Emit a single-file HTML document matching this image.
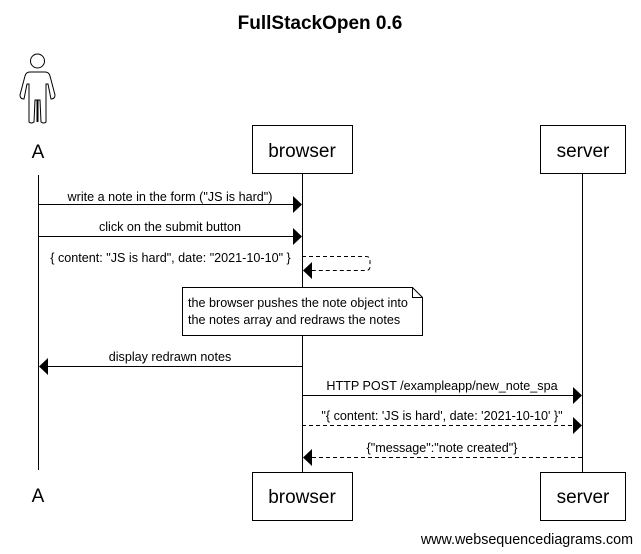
<!DOCTYPE html>
<html><head><style>body{margin:0;background:#fff}svg{display:block}text{font-family:"Liberation Sans",sans-serif;fill:#000}</style></head><body>
<svg width="641" height="554" viewBox="0 0 641 554" xmlns="http://www.w3.org/2000/svg">
<text x="320" y="29" font-size="19" font-weight="bold" text-anchor="middle">FullStackOpen 0.6</text>
<!-- actor -->
<g fill="none" stroke="#000" stroke-width="1">
<circle cx="37.5" cy="61" r="7"/>
<path d="M30,72 Q26,72 25,76 L20,95 Q20,99 24,99 L27,84 L29,84 L29,122 Q31,124 34,122 L35,100 L40,100 L41,122 Q44,124 46,122 L46,84 L48,84 L51,99 Q55,99 55,95 L50,76 Q49,72 45,72 Z"/>
<line x1="37.5" y1="100" x2="37.5" y2="122" stroke-width="2"/>
</g>
<text x="38" y="158" font-size="19" text-anchor="middle">A</text>
<text x="38" y="502" font-size="19" text-anchor="middle">A</text>
<!-- lifelines -->
<g stroke="#000" stroke-width="1">
<line x1="38.5" y1="175" x2="38.5" y2="470"/>
<line x1="302.5" y1="173" x2="302.5" y2="472"/>
<line x1="582.5" y1="173" x2="582.5" y2="472"/>
</g>
<!-- boxes -->
<g fill="#fff" stroke="#000">
<rect x="252.5" y="125.5" width="100" height="48"/>
<rect x="540.5" y="125.5" width="85" height="48"/>
<rect x="252.5" y="472.5" width="100" height="48"/>
<rect x="540.5" y="472.5" width="85" height="48"/>
</g>
<g font-size="19" text-anchor="middle">
<text x="302" y="157">browser</text><text x="583" y="157">server</text>
<text x="302" y="503">browser</text><text x="583" y="503">server</text>
</g>
<!-- messages -->
<g stroke="#000" fill="none">
<line x1="38" y1="204.5" x2="294" y2="204.5"/>
<line x1="38" y1="236.5" x2="294" y2="236.5"/>
<path d="M302,256.5 H366 Q370,256.5 370,260 V266 Q370,270.5 366,270.5 H312" stroke-dasharray="4,3"/>
<line x1="48" y1="366.5" x2="302" y2="366.5"/>
<line x1="302" y1="395.5" x2="574" y2="395.5"/>
<line x1="302" y1="425.5" x2="574" y2="425.5" stroke-dasharray="4,3"/>
<line x1="312" y1="457.5" x2="582" y2="457.5" stroke-dasharray="4,3"/>
</g>
<g fill="#000">
<path d="M293,196 L302,204.5 L293,213Z"/>
<path d="M293,228 L302,236.5 L293,245Z"/>
<path d="M312,262 L303,270.5 L312,279Z"/>
<path d="M48,358 L39,366.5 L48,375Z"/>
<path d="M573,387 L582,395.5 L573,404Z"/>
<path d="M573,417 L582,425.5 L573,434Z"/>
<path d="M312,449 L303,457.5 L312,466Z"/>
</g>
<g font-size="12.6" text-anchor="middle">
<text x="170" y="201">write a note in the form ("JS is hard")</text>
<text x="170" y="231">click on the submit button</text>
<text x="170.5" y="262">{ content: "JS is hard", date: "2021-10-10" }</text>
<text x="170" y="361">display redrawn notes</text>
<text x="442" y="390">HTTP POST /exampleapp/new_note_spa</text>
<text x="442" y="420">"{ content: 'JS is hard', date: '2021-10-10' }"</text>
<text x="442" y="452">{"message":"note created"}</text>
</g>
<!-- note -->
<path d="M182.5,287.5 H412.5 L422.5,297.5 V335.5 H182.5 Z" fill="#fff" stroke="#000"/>
<path d="M412.5,287.5 V297.5 H422.5" fill="none" stroke="#000"/>
<text x="188" y="307" font-size="12.6">the browser pushes the note object into</text>
<text x="188" y="324" font-size="12.6">the notes array and redraws the notes</text>
<text x="633" y="544" font-size="14.3" text-anchor="end">www.websequencediagrams.com</text>
</svg>
</body></html>
